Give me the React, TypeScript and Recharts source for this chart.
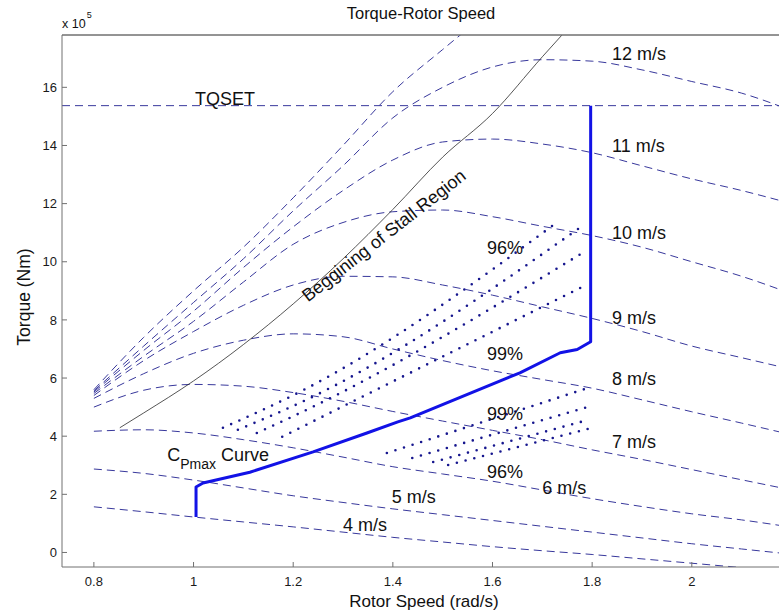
import React from "react";
import { LineChart, Line, XAxis, YAxis, ReferenceLine, ReferenceDot } from "recharts";

const W = 779;
const H = 616;
const FONT = '"Liberation Sans", Arial, Helvetica, sans-serif';

// rotor speed samples (rad/s) for the wind speed curves
const SPEED = [0.8, 0.9, 1.0, 1.1, 1.2, 1.3, 1.4, 1.5, 1.6, 1.7, 1.8, 1.9, 2.0, 2.1, 2.2];

// aerodynamic torque, x 10^5 Nm, one array per wind speed
const TQ_4 = [1.57, 1.4, 1.22, 1.05, 0.88, 0.7, 0.52, 0.36, 0.2, 0.06, -0.07, -0.22, -0.37, -0.52, -0.66];
const TQ_5 = [2.87, 2.72, 2.49, 2.22, 1.95, 1.72, 1.5, 1.3, 1.1, 0.9, 0.7, 0.5, 0.3, 0.12, -0.06];
const TQ_6 = [4.17, 4.22, 4.11, 3.88, 3.6, 3.28, 2.95, 2.7, 2.45, 2.15, 1.85, 1.58, 1.33, 1.12, 0.87];
const TQ_7 = [5.0, 5.58, 5.78, 5.72, 5.5, 5.2, 4.85, 4.52, 4.2, 3.88, 3.53, 3.2, 2.85, 2.5, 2.15];
const TQ_8 = [5.3, 6.15, 6.85, 7.3, 7.52, 7.42, 7.0, 6.6, 6.25, 5.95, 5.65, 5.25, 4.84, 4.45, 4.05];
const TQ_9 = [5.4, 6.6, 7.6, 8.5, 9.2, 9.5, 9.48, 9.2, 8.85, 8.45, 8.05, 7.6, 7.1, 6.7, 6.3];
const TQ_10 = [5.47, 6.75, 7.95, 9.3, 10.6, 11.35, 11.72, 11.78, 11.55, 11.22, 10.9, 10.5, 10.0, 9.5, 8.9];
const TQ_11 = [5.52, 6.95, 8.3, 9.8, 11.2, 12.45, 13.5, 14.12, 14.22, 14.05, 13.75, 13.3, 12.85, 12.45, 12.0];
const TQ_12 = [5.56, 7.1, 8.6, 10.1, 11.75, 13.3, 14.95, 16.0, 16.7, 16.95, 16.9, 16.6, 16.2, 15.8, 15.2];
const TQ_13 = [5.6, 7.4, 9.0, 10.5, 12.2, 14.0, 15.85, 17.3, 18.7];

const WIND_CURVES = [TQ_4, TQ_5, TQ_6, TQ_7, TQ_8, TQ_9, TQ_10, TQ_11, TQ_12, TQ_13];

// rated torque setpoint
const TQSET = 15.37;

// boundary of the stall region
const STALL_SPEED = [0.852, 0.9, 1.0, 1.1, 1.2, 1.3, 1.4, 1.5, 1.6, 1.7, 1.75];
const STALL_TQ = [4.29, 4.8, 5.9, 7.15, 8.55, 10.1, 11.8, 13.6, 15.1, 17.05, 18.0];

// Cp-max tracking path, then vertical up to TQSET
const CP_SPEED = [1.005, 1.005, 1.019, 1.113, 1.24, 1.348, 1.41, 1.435, 1.655, 1.736, 1.77, 1.797, 1.797];
const CP_TQ = [1.22, 2.25, 2.39, 2.76, 3.46, 4.11, 4.49, 4.63, 6.18, 6.87, 6.98, 7.25, 15.37];

// efficiency contours (96% .. 99%) above and below the Cp-max path
const EFF_UPPER_SPEED = [
  [1.059, 1.214, 1.73],
  [1.089, 1.214, 1.776],
  [1.127, 1.214, 1.782],
  [1.178, 1.234, 1.782],
];
const EFF_UPPER_TQ = [
  [4.29, 5.53, 11.36],
  [4.22, 5.15, 11.18],
  [4.11, 4.8, 10.32],
  [3.98, 4.46, 9.15],
];
const EFF_LOWER_SPEED = [
  [1.388, 1.792],
  [1.439, 1.792],
  [1.481, 1.792],
  [1.511, 1.792],
];
const EFF_LOWER_TQ = [
  [3.42, 5.66],
  [3.25, 5.01],
  [3.11, 4.56],
  [3.01, 4.25],
];

const X_TICKS = [0.8, 1.0, 1.2, 1.4, 1.6, 1.8, 2.0];
const Y_TICKS = [0, 2, 4, 6, 8, 10, 12, 14, 16];
const X_DOMAIN: [number, number] = [0.736, 2.175];
const Y_DOMAIN: [number, number] = [-0.5, 17.8];

// text anchors in axis units
const CURVE_LABELS = [
  { text: "12 m/s", x: 1.84, y: 17.14 },
  { text: "11 m/s", x: 1.84, y: 13.98 },
  { text: "10 m/s", x: 1.84, y: 10.98 },
  { text: "9 m/s", x: 1.84, y: 8.05 },
  { text: "8 m/s", x: 1.84, y: 5.98 },
  { text: "7 m/s", x: 1.84, y: 3.8 },
  { text: "6 m/s", x: 1.7, y: 2.22 },
  { text: "5 m/s", x: 1.398, y: 1.91 },
  { text: "4 m/s", x: 1.3, y: 0.94 },
  { text: "96%", x: 1.589, y: 10.46 },
  { text: "99%", x: 1.589, y: 6.84 },
  { text: "99%", x: 1.589, y: 4.77 },
  { text: "96%", x: 1.589, y: 2.77 },
  { text: "TQSET", x: 1.003, y: 15.6 },
];

const zip = (xs: number[], ys: number[]) =>
  ys.map((y, i) => ({ x: xs[i], y }));

const DASH_BLUE = "#38389c";
const AXIS_GREY = "#707070";

export default function App() {
  const tickStyle = { fontSize: 13, fill: "#1a1a1a", fontFamily: FONT };

  return (
    <div style={{ position: "absolute", left: 0, top: 0, width: W, height: H, background: "#fff", fontFamily: FONT }}>
      <LineChart width={W} height={H} margin={{ top: 34, right: 0, bottom: 0, left: 0 }}>
        <XAxis
          dataKey="x"
          type="number"
          domain={X_DOMAIN}
          allowDataOverflow
          ticks={X_TICKS}
          tickFormatter={(v) => String(v)}
          height={49}
          tickSize={-5}
          tickMargin={15}
          tick={tickStyle}
          axisLine={{ stroke: AXIS_GREY }}
          tickLine={{ stroke: AXIS_GREY }}
        />
        <XAxis
          xAxisId="top"
          orientation="top"
          dataKey="x"
          type="number"
          domain={X_DOMAIN}
          allowDataOverflow
          ticks={X_TICKS}
          height={1}
          tickSize={-5}
          tick={false}
          axisLine={{ stroke: AXIS_GREY }}
          tickLine={{ stroke: AXIS_GREY }}
        />
        <YAxis
          dataKey="y"
          type="number"
          domain={Y_DOMAIN}
          allowDataOverflow
          ticks={Y_TICKS}
          width={62}
          tickSize={-5}
          tickMargin={10}
          tick={tickStyle}
          axisLine={{ stroke: AXIS_GREY }}
          tickLine={{ stroke: AXIS_GREY }}
        />

        <ReferenceLine y={TQSET} stroke={DASH_BLUE} strokeWidth={1} strokeDasharray="8 5" />

        {WIND_CURVES.map((tq, i) => (
          <Line
            key={"wind" + i}
            data={zip(SPEED, tq)}
            dataKey="y"
            type="monotone"
            stroke={DASH_BLUE}
            strokeWidth={1}
            strokeDasharray="8 5"
            dot={false}
            isAnimationActive={false}
          />
        ))}

        <Line
          data={zip(STALL_SPEED, STALL_TQ)}
          dataKey="y"
          type="monotone"
          stroke="#2a2a2a"
          strokeWidth={0.8}
          dot={false}
          isAnimationActive={false}
        />

        {EFF_UPPER_TQ.map((tq, i) => (
          <Line
            key={"effU" + i}
            data={zip(EFF_UPPER_SPEED[i], tq)}
            dataKey="y"
            type="monotone"
            stroke="#16168e"
            strokeWidth={2.6}
            strokeLinecap="round"
            strokeDasharray="0 9"
            dot={false}
            isAnimationActive={false}
          />
        ))}
        {EFF_LOWER_TQ.map((tq, i) => (
          <Line
            key={"effL" + i}
            data={zip(EFF_LOWER_SPEED[i], tq)}
            dataKey="y"
            type="linear"
            stroke="#16168e"
            strokeWidth={2.6}
            strokeLinecap="round"
            strokeDasharray="0 9"
            dot={false}
            isAnimationActive={false}
          />
        ))}

        <Line
          data={zip(CP_SPEED, CP_TQ)}
          dataKey="y"
          type="linear"
          stroke="#1212e6"
          strokeWidth={3}
          strokeLinejoin="round"
          dot={false}
          isAnimationActive={false}
        />

        <ReferenceLine y={Y_DOMAIN[1]} stroke={AXIS_GREY} />

        {CURVE_LABELS.map((l, i) => (
          <ReferenceDot
            key={"lbl" + i}
            x={l.x}
            y={l.y}
            r={0}
            ifOverflow="visible"
            shape={(p: any) => (
              <text x={p.cx} y={p.cy} fontSize={18} fill="#111" fontFamily={FONT} dominantBaseline="central">
                {l.text}
              </text>
            )}
          />
        ))}

        <ReferenceDot
          x={0.947}
          y={3.15}
          r={0}
          ifOverflow="visible"
          shape={(p: any) => (
            <text x={p.cx} y={p.cy} fontSize={18} fill="#111" fontFamily={FONT}>
              <tspan>C</tspan>
              <tspan fontSize={14} dy={8}>Pmax</tspan>
              <tspan dy={-8} dx={5}>Curve</tspan>
            </text>
          )}
        />

        <ReferenceDot
          x={1.382}
          y={10.9}
          r={0}
          ifOverflow="visible"
          shape={(p: any) => (
            <text
              x={p.cx}
              y={p.cy}
              fontSize={18}
              fill="#111"
              fontFamily={FONT}
              textAnchor="middle"
              dominantBaseline="central"
              transform={`rotate(-38 ${p.cx} ${p.cy})`}
            >
              Beggining of Stall Region
            </text>
          )}
        />
      </LineChart>

      <svg width={W} height={H} style={{ position: "absolute", left: 0, top: 0, pointerEvents: "none" }}>
        <text x={421} y={13} fontSize={16.5} textAnchor="middle" dominantBaseline="central" fill="#111" fontFamily={FONT}>
          Torque-Rotor Speed
        </text>
        <text x={424} y={601} fontSize={17} textAnchor="middle" dominantBaseline="central" fill="#111" fontFamily={FONT}>
          Rotor Speed (rad/s)
        </text>
        <text
          x={24}
          y={297}
          fontSize={17.5}
          textAnchor="middle"
          dominantBaseline="central"
          fill="#111"
          fontFamily={FONT}
          transform="rotate(-90 24 297)"
        >
          Torque (Nm)
        </text>
        <text x={62} y={28} fontSize={12.5} fill="#111" fontFamily={FONT}>
          x 10
          <tspan fontSize={9} dy={-10} dx={1}>5</tspan>
        </text>
      </svg>
    </div>
  );
}
